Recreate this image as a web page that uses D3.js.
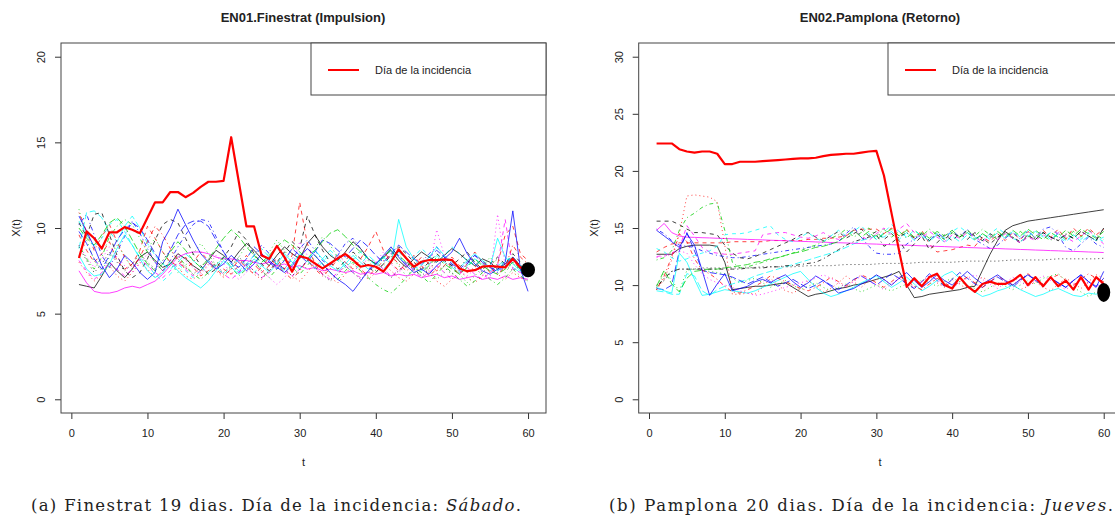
<!DOCTYPE html>
<html>
<head>
<meta charset="utf-8">
<script src="https://cdn.jsdelivr.net/npm/d3@7"></script>
<style>
body { margin: 0; background: #fff; }
text { font-family: "Liberation Sans", Arial, sans-serif; fill: #222; }
</style>
</head>
<body>
<svg width="1115" height="516"></svg>
<script>
// days 1..60
var days = d3.range(1, 61);
var xTicks = [0, 10, 20, 30, 40, 50, 60];
var yTicksFinestrat = [0, 5, 10, 15, 20];
var yTicksPamplona = [0, 5, 10, 15, 20, 25, 30];

// R matplot palette / line types, cycled per series
var seriesColors = ['#000000', '#ff0000', '#00cd00', '#0000ff', '#00ffff', '#ff00ff'];
var seriesDashes = [null, '4,4', '1,3', '1,3,4,3', '7,3'];

// EN01 Finestrat: other days
var finestratDays = [
  [6.7,6.6,6.5,7.2,8.0,7.5,7.1,7.6,8.3,8.6, 8.1,7.7,7.9,8.5,8.2,7.8,7.5,8.1,8.7,8.4, 8.0,8.6,9.1,8.7,8.2,7.8,8.4,8.9,8.5,8.2, 9.1,9.6,8.9,8.4,8.1,8.6,9.2,8.8,8.2,7.9, 8.3,8.7,8.1,7.7,8.2,8.6,8.3,8.0,8.4,8.8, 8.5,8.1,7.8,8.2,8.0,7.6,7.9,8.3,7.8,7.5],
  [9.6,8.7,8.0,8.5,9.2,8.1,7.6,7.9,8.7,10.1, 9.4,8.6,8.0,7.8,8.3,7.7,7.2,7.5,8.0,7.6, 7.3,7.8,8.4,7.9,7.4,7.8,8.2,7.6,8.4,11.5, 9.1,7.9,7.3,7.8,8.5,8.0,7.6,8.2,8.9,9.8, 8.7,8.0,7.5,7.9,8.4,7.8,7.2,7.6,8.1,7.7, 7.3,7.9,8.6,8.0,7.4,7.9,9.6,10.1,8.5,8.1],
  [11.1,9.3,8.1,7.5,8.3,9.0,8.4,7.6,8.1,8.8, 9.4,8.6,7.9,7.4,7.8,8.5,9.1,8.5,7.8,7.3, 7.7,8.3,9.0,8.4,7.8,8.6,9.3,8.7,8.0,7.6, 8.1,8.8,9.5,9.0,8.3,7.7,8.2,8.7,8.1,7.5, 7.9,8.4,7.8,7.2,7.6,8.1,7.5,7.0,7.4,7.9, 7.3,6.8,7.2,7.7,8.3,7.8,7.4,8.0,7.5,7.1],
  [10.2,10.8,9.6,8.4,7.7,8.6,9.5,10.4,9.7,8.8, 8.0,7.5,8.1,8.9,9.6,10.2,10.5,10.4,9.5,8.6, 7.9,7.4,7.8,8.4,9.0,8.5,7.9,7.6,8.2,8.8, 9.3,8.7,8.1,7.8,8.4,9.1,9.4,8.8,8.2,7.9, 8.3,8.8,8.4,7.9,7.6,8.0,8.5,8.9,8.3,7.8, 7.5,7.9,8.4,8.1,7.7,7.4,7.8,8.2,7.6,7.2],
  [8.8,10.9,11.0,10.6,9.8,9.2,10.1,10.7,10.0,9.1, 8.4,7.9,7.6,8.0,8.5,8.1,7.7,7.4,7.8,8.3, 7.9,7.5,7.9,8.4,8.8,8.3,7.9,7.5,7.9,8.5, 8.1,7.7,8.2,8.7,8.3,7.8,7.4,7.9,8.4,8.0, 7.6,8.1,8.6,8.2,7.8,7.5,7.9,8.4,8.0,7.7, 7.4,7.8,8.2,7.9,7.5,7.8,8.1,7.7,7.4,7.1],
  [7.5,6.8,6.3,6.2,6.2,6.3,6.5,6.6,6.5,6.7, 6.9,7.3,7.8,8.3,8.5,8.6,8.6,8.5,8.3,8.2, 8.2,8.1,8.1,8.0,7.9,8.0,7.8,7.9,7.7,7.8, 7.6,7.7,7.5,7.6,7.5,7.4,7.5,7.3,7.4,7.3, 7.4,7.2,7.3,7.2,7.3,7.1,7.2,7.3,7.1,7.2, 7.0,7.1,7.2,7.0,7.1,7.0,7.2,7.0,7.1,7.0],
  [10.3,9.5,10.8,10.9,9.6,8.4,7.5,7.1,7.4,8.2, 9.3,10.2,10.5,10.3,9.4,8.5,7.8,7.3,7.6,8.3, 8.9,9.8,9.3,8.5,7.9,7.5,8.0,8.6,9.2,8.8, 10.7,9.6,8.7,8.0,7.6,8.1,8.6,8.2,7.7,7.4, 7.9,8.4,8.9,8.5,8.0,7.6,8.0,8.5,8.1,7.8, 8.2,8.6,8.0,7.6,7.9,8.3,7.9,8.5,8.0,7.7],
  [8.0,7.4,6.9,7.3,7.8,7.2,6.9,7.4,8.0,7.6, 7.1,7.5,8.1,7.7,7.2,7.0,7.4,7.9,7.5,7.1, 7.6,8.2,7.8,7.3,7.0,7.5,8.0,7.6,7.2,6.9, 7.4,8.0,7.6,7.1,6.8,7.3,7.9,7.5,7.0,7.4, 7.9,7.5,7.1,6.9,7.3,7.8,7.4,6.9,6.6,7.0, 7.5,7.1,6.8,7.2,7.7,7.3,7.0,7.4,7.1,6.9],
  [9.0,8.2,7.6,8.3,9.5,10.1,10.5,10.2,9.4,8.6, 8.0,7.5,7.9,8.4,7.8,7.3,7.0,7.4,7.9,8.3, 7.7,7.2,7.6,8.1,7.5,7.1,7.6,8.2,7.7,7.3, 7.8,8.4,7.9,7.4,7.0,7.5,8.0,7.5,7.1,6.7, 6.4,6.2,6.6,7.1,7.6,7.2,6.8,7.3,7.8,7.4, 7.0,6.6,6.9,7.4,7.0,6.7,7.1,7.6,7.2,6.9],
  [9.8,9.1,8.2,7.6,8.4,9.3,9.9,10.3,10.0,9.3, 8.5,7.9,8.7,9.6,10.2,10.4,10.4,10.1,9.3,8.6, 8.0,7.7,8.2,8.9,8.5,8.0,7.6,8.1,8.8,8.4, 8.0,8.6,9.3,9.1,8.7,8.3,8.8,9.3,8.9,8.4, 8.0,8.5,9.0,8.6,8.2,7.9,8.3,8.7,8.3,7.9, 7.6,8.0,8.4,8.0,7.7,7.5,7.9,8.3,7.8,7.4],
  [8.4,7.6,7.2,7.3,7.9,8.8,9.6,9.0,8.2,7.5, 7.1,7.4,8.0,7.5,7.1,6.8,6.5,6.9,7.5,8.1, 7.7,7.3,7.7,8.2,7.8,7.4,7.9,8.5,8.0,7.6, 8.1,8.7,8.2,7.8,7.5,7.9,8.4,8.0,7.6,7.9, 8.3,7.9,10.5,8.9,8.2,7.8,8.3,8.9,8.4,8.0, 7.7,8.1,8.5,8.1,7.7,9.4,8.3,7.9,7.5,7.3],
  [8.1,7.5,7.0,7.4,8.0,7.6,7.2,7.6,8.2,7.8, 7.4,7.1,7.5,8.0,7.6,7.2,7.5,8.1,7.7,7.3, 7.0,7.4,7.9,7.5,7.1,7.4,7.9,7.5,7.2,7.6, 8.1,7.7,7.3,7.0,7.4,7.8,7.4,7.1,7.5,8.0, 7.6,7.2,7.5,7.9,7.5,7.1,7.4,7.8,7.4,7.0, 7.3,7.7,7.3,7.0,7.4,7.8,10.5,7.6,7.4,7.2],
  [8.9,8.1,7.4,7.9,8.6,8.0,7.5,7.9,8.5,8.0, 7.6,8.1,8.7,8.2,7.7,7.3,7.7,8.2,7.8,7.4, 7.8,8.3,7.9,7.5,7.1,7.5,8.0,7.6,7.2,7.6, 8.1,7.7,7.3,6.9,7.3,7.8,7.4,7.0,7.4,7.9, 7.5,7.1,7.5,8.0,7.6,7.2,7.6,8.1,7.7,7.3, 7.7,8.2,7.8,7.4,7.8,8.2,7.8,7.5,7.8,7.6],
  [10.9,9.8,8.7,9.5,10.2,9.2,8.3,7.7,8.3,9.2, 10.1,9.6,8.8,8.1,7.6,8.0,8.6,8.1,7.6,7.2, 7.6,8.1,7.7,7.3,7.7,8.3,7.8,7.4,7.0,7.5, 8.1,7.6,7.2,7.6,8.2,8.6,8.1,7.6,7.2,7.6, 8.1,8.4,7.9,7.5,7.8,8.3,7.9,7.5,7.8,8.3, 7.8,7.4,7.7,8.1,7.7,7.3,7.7,9.0,8.3,7.9],
  [10.0,9.4,9.0,9.6,10.3,10.6,10.1,9.3,8.5,7.9, 7.5,7.9,8.6,9.2,8.7,8.1,7.7,8.2,8.8,9.4, 9.9,9.5,8.9,8.4,8.0,8.4,8.9,9.3,9.0,8.6, 8.2,8.7,9.2,9.7,9.9,9.5,9.0,8.6,8.2,7.9, 8.3,8.8,8.4,8.0,7.7,7.4,7.8,8.3,7.9,7.6, 7.3,7.7,8.2,7.8,7.5,7.3,7.6,8.0,7.6,7.3],
  [10.7,9.8,8.9,7.8,7.1,7.6,8.4,8.0,7.4,7.0, 7.4,9.2,10.0,11.1,10.2,9.3,8.5,8.0,7.6,7.9, 8.4,8.0,7.5,7.9,8.5,8.1,7.7,7.4,7.8,8.3, 8.8,8.4,7.9,7.4,7.0,6.7,6.3,6.9,7.5,7.9, 8.4,8.9,8.3,7.8,7.4,7.6,7.3,7.8,8.2,8.6, 9.4,8.5,7.9,7.5,7.3,7.6,8.0,11.0,7.6,6.3],
  [10.4,9.6,8.9,9.4,10.2,10.5,9.8,9.0,8.3,7.8, 7.3,6.9,7.3,7.9,7.5,7.1,7.5,8.1,7.7,7.3, 7.7,8.2,7.8,7.4,7.8,8.4,7.9,7.5,7.9,8.5, 8.1,7.6,8.0,8.5,8.1,7.7,8.1,8.6,8.2,7.8, 8.2,8.7,8.3,7.9,8.3,8.8,8.4,8.0,8.4,8.9, 8.5,8.1,7.8,8.1,7.8,7.5,8.1,8.3,7.8,7.6],
  [9.0,8.3,7.7,8.2,8.9,8.3,7.8,7.4,7.9,8.5, 8.0,7.5,7.9,8.5,8.1,7.7,7.3,7.8,8.4,7.9, 7.4,7.0,7.4,8.0,7.5,7.1,6.7,7.1,7.7,9.2, 8.4,7.7,7.3,7.8,8.4,8.0,7.5,7.8,8.2,8.0, 8.6,7.9,7.4,7.8,8.3,7.9,7.5,9.9,8.4,8.0, 7.5,7.2,7.6,7.3,7.0,10.8,7.8,8.1,7.6,7.4]
];
var finestratIncidence = [8.25,9.8,9.4,8.8,9.75,9.75,10.05,9.9,9.7,10.6, 11.5,11.5,12.1,12.1,11.8,12.05,12.4,12.7,12.7,12.75, 15.3,12.7,10.1,10.1,8.4,8.2,8.95,8.3,7.45,8.36, 8.23,7.93,7.64,7.93,8.23,8.48,8.13,7.74,7.84,7.74, 7.45,8.03,8.75,8.23,7.74,8.03,8.13,8.13,8.17,8.13, 7.64,7.48,7.54,7.74,7.78,7.74,7.7,8.2,7.7,7.54];
var finestratLast = 7.56;

// EN02 Pamplona: other days
var pamplonaDays = [
  [12.7,12.7,12.7,13.2,13.4,13.5,13.5,13.5,13.4,12.0, 9.6,9.7,9.8,9.9,9.9,10.0,10.1,10.2,9.8,9.4, 9.0,9.2,9.3,9.5,9.7,9.8,10.0,10.1,10.3,10.5, 10.7,10.9,11.2,10.0,8.9,9.0,9.2,9.3,9.4,9.5, 9.6,9.8,9.9,11.3,12.7,13.9,14.8,15.2,15.4,15.6, 15.7,15.8,15.9,16.0,16.1,16.2,16.3,16.4,16.5,16.6],
  [12.9,13.3,13.6,13.7,13.7,13.7,13.7,13.7,13.7,13.7, 13.8,13.8,13.8,13.8,13.8,13.9,13.9,13.9,13.9,13.9, 14.0,14.0,14.1,14.1,14.2,14.3,14.8,14.9,14.9,14.9, 14.5,15.0,14.3,14.9,14.1,14.8,13.6,12.9,13.0,13.1, 13.3,13.5,13.4,14.2,13.8,14.5,13.9,14.6,14.0,14.7, 14.1,14.8,14.2,14.9,14.0,15.0,14.3,15.0,14.4,14.9],
  [9.6,11.2,10.4,9.5,11.3,11.4,11.3,11.2,11.1,11.0, 10.6,10.2,10.4,10.6,10.2,9.8,10.1,10.4,10.0,9.6, 9.9,10.2,9.8,9.5,9.8,10.1,9.7,9.4,9.7,10.0, 9.7,9.5,9.8,10.1,9.8,10.5,10.2,9.9,10.3,10.6, 10.3,10.0,9.7,9.4,9.8,10.2,9.9,9.6,10.0,10.4, 10.1,10.6,10.8,11.0,10.4,9.8,9.4,9.0,9.4,9.0],
  [14.9,14.5,13.9,13.5,13.4,13.3,13.0,12.8,12.6,12.5, 12.4,12.4,12.5,12.6,12.7,12.8,12.9,13.0,13.1,13.2, 13.3,13.4,13.5,13.6,13.8,14.5,15.1,14.2,13.4,12.8, 12.7,12.7,12.8,13.6,14.0,14.5,13.9,14.6,14.1,14.8, 14.2,14.9,14.0,13.6,13.2,13.5,14.1,14.6,14.0,14.7, 14.2,14.9,15.1,14.4,13.3,13.0,13.6,14.2,13.6,13.3],
  [9.5,9.4,9.2,9.2,11.0,10.8,9.5,9.1,9.6,9.9, 10.1,10.3,10.5,10.8,11.0,11.2,11.4,11.6,11.8,12.0, 12.2,12.4,12.6,12.8,13.0,13.3,13.6,13.9,14.1,14.3, 14.2,14.7,14.0,14.6,13.9,14.5,13.8,14.4,13.7,14.3, 13.8,14.4,13.9,14.5,14.0,14.6,14.1,14.7,14.2,14.8, 14.1,14.6,14.0,14.5,13.9,14.4,13.8,14.3,13.9,14.2],
  [14.8,15.4,14.6,14.3,14.20,14.18,14.15,14.13,14.10,14.08, 14.05,14.03,14.00,13.98,13.96,13.93,13.91,13.88,13.86,13.83, 13.81,13.78,13.76,13.73,13.71,13.69,13.66,13.64,13.61,13.59, 13.56,13.54,13.51,13.49,13.47,13.44,13.42,13.39,13.37,13.34, 13.32,13.29,13.27,13.24,13.22,13.20,13.17,13.15,13.12,13.10, 13.07,13.05,13.02,13.00,12.97,12.95,12.93,12.90,12.88,12.85],
  [15.6,15.6,15.6,15.3,14.9,14.6,14.6,14.5,14.4,13.5, 12.8,12.4,12.3,12.5,12.8,13.1,13.4,13.7,14.0,14.4, 14.6,14.2,13.9,14.3,14.7,14.1,14.5,14.9,14.3,14.7, 14.0,14.5,13.9,12.9,13.6,14.3,13.1,13.7,14.4,13.9, 14.5,14.0,14.6,14.1,13.6,14.2,14.7,14.1,13.7,14.3, 14.0,14.6,14.2,13.9,14.4,14.1,14.7,14.3,13.9,15.0],
  [9.6,10.5,12.2,14.5,17.8,17.9,17.8,17.7,17.3,13.5, 9.2,9.2,9.3,9.2,9.8,10.6,10.0,9.5,9.3,9.7, 10.4,9.9,9.4,9.7,10.2,10.8,10.3,9.8,10.4,10.9, 10.5,10.0,10.6,10.2,9.7,10.3,10.8,10.2,9.8,10.5, 10.1,9.6,10.2,10.7,10.3,9.9,10.4,10.0,9.6,9.9, 10.3,9.8,9.5,10.1,10.6,10.2,9.7,10.3,10.9,10.6],
  [12.2,12.4,13.0,14.8,15.9,16.3,16.8,17.1,17.2,14.8, 12.0,11.5,11.6,11.8,12.0,12.2,12.4,12.6,12.8,13.0, 13.3,13.5,13.8,14.1,14.4,14.9,14.2,14.6,15.0,14.3, 14.9,14.2,14.7,14.1,14.8,14.3,14.9,14.4,14.0,14.6, 14.2,14.8,14.3,14.9,14.4,14.0,14.6,14.1,14.7,14.2, 14.8,14.3,13.9,14.5,14.1,14.7,14.2,14.8,14.4,14.0],
  [9.7,9.6,10.0,13.0,14.6,13.0,11.3,11.1,11.0,10.9, 10.7,10.4,10.1,10.4,10.7,10.3,9.9,10.2,10.5,10.1, 9.7,10.0,10.4,10.0,9.6,10.0,10.5,10.8,10.4,10.0, 10.5,11.0,10.6,10.1,9.7,10.3,11.0,10.4,9.9,10.5, 11.1,10.6,10.1,9.8,10.3,10.7,10.3,9.8,10.4,10.9, 10.5,10.0,10.6,10.2,9.8,10.4,10.9,10.3,9.9,10.6],
  [9.8,9.5,9.3,12.8,12.0,10.5,9.1,9.2,9.4,9.6, 9.5,9.4,9.3,9.5,9.8,10.1,10.4,10.7,11.0,11.2, 10.5,9.8,9.3,9.0,9.2,9.5,9.8,10.2,10.5,10.8, 10.3,9.8,10.2,10.7,10.1,9.5,9.9,10.4,10.9,11.2, 10.6,10.0,9.4,9.0,9.2,9.5,9.7,10.0,9.6,9.3, 9.0,9.2,9.5,9.7,9.4,9.1,9.0,9.3,9.2,9.5],
  [12.5,12.6,12.8,13.2,15.2,14.3,13.3,12.9,12.8,12.7, 12.7,12.8,12.9,13.0,14.4,14.5,14.6,14.6,14.4,14.2, 14.1,14.3,14.6,14.2,14.0,14.4,14.8,14.3,13.9,14.5, 15.0,14.4,14.9,15.4,14.6,14.1,14.7,14.2,13.8,14.4, 14.1,14.6,14.2,13.8,14.3,14.0,14.5,14.1,13.7,14.2, 13.9,14.4,14.0,14.6,14.2,13.8,14.3,14.8,14.2,13.6],
  [10.0,10.4,11.2,11.4,11.4,11.4,11.5,11.5,11.5,11.5, 11.5,11.5,11.5,11.55,11.6,11.6,11.6,11.6,11.6,11.65, 11.7,11.7,11.7,11.7,11.75,11.8,11.8,11.8,11.8,11.85, 11.9,11.9,11.9,11.9,11.95,12.0,12.0,12.0,12.0,12.0, 12.05,12.1,12.1,12.1,12.1,12.1,12.15,12.2,12.2,12.2, 12.2,12.2,12.25,12.3,12.3,12.3,12.3,12.3,12.3,12.35],
  [9.6,10.8,12.5,14.5,13.8,12.3,11.3,11.0,10.5,9.9, 9.4,9.3,9.6,9.9,10.3,10.8,10.6,10.3,10.0,9.7, 9.5,9.8,10.2,10.7,10.3,9.9,10.4,10.9,10.6,10.2, 9.8,10.3,10.8,10.4,9.9,9.6,10.1,10.6,10.2,9.8, 10.3,10.7,10.2,9.8,10.3,10.8,10.4,10.0,10.5,11.0, 10.5,10.1,10.6,10.9,10.4,10.0,10.5,11.0,10.6,10.3],
  [9.9,11.3,10.1,9.4,10.6,11.2,11.3,11.4,11.4,11.5, 11.6,11.7,11.8,12.0,12.1,12.3,12.4,12.6,12.8,12.9, 13.1,13.3,13.4,13.6,13.8,14.3,14.8,14.2,14.7,14.0, 14.5,14.9,14.3,14.8,14.2,14.6,14.1,14.7,14.3,14.8, 14.2,14.6,14.0,14.5,14.1,14.7,14.2,14.8,14.3,14.9, 14.4,14.0,14.6,14.2,14.8,14.3,14.9,14.5,14.1,14.7],
  [14.8,14.3,13.8,13.3,14.5,13.5,11.3,9.1,10.1,11.0, 9.5,9.7,9.9,10.3,10.5,10.2,10.6,10.9,10.3,9.8, 10.2,10.8,10.4,9.9,9.3,9.5,9.7,10.1,10.4,10.9, 10.5,10.0,10.6,11.1,10.4,9.8,10.3,10.9,10.4,10.0, 10.6,11.2,10.6,10.1,10.5,10.9,10.4,10.0,10.5,10.9, 10.4,10.0,10.6,10.2,9.8,10.4,10.9,10.3,9.8,11.2],
  [13.2,12.9,12.4,12.1,12.3,12.6,12.8,13.0,13.4,14.4, 14.5,14.5,14.6,14.8,15.0,15.2,14.4,14.0,13.8,14.2, 14.6,14.1,13.8,14.3,14.8,14.3,14.7,15.2,14.5,14.0, 14.6,15.3,14.7,14.2,14.8,14.3,13.9,14.5,14.1,14.7, 15.1,14.6,14.2,13.9,14.5,15.0,14.5,14.1,13.8,14.3, 14.7,14.2,14.6,14.2,13.8,14.4,14.0,14.6,14.2,13.8],
  [12.4,12.5,12.7,13.0,12.8,11.8,11.0,10.5,10.2,10.0, 9.8,9.5,9.3,9.1,9.2,9.4,9.6,9.8,10.0,10.2, 10.4,10.6,10.9,10.6,10.2,9.8,10.3,10.8,10.4,10.0, 9.6,10.1,10.6,10.2,9.8,10.3,10.8,10.5,10.1,9.7, 10.2,10.6,10.9,10.5,10.1,9.7,10.2,10.7,10.3,9.9, 10.4,10.8,10.4,10.0,9.6,10.1,10.5,10.1,9.8,10.3],
  [9.8,10.6,11.2,11.4,11.4,11.4,11.4,11.4,11.4,11.4, 11.4,11.4,11.5,11.5,11.5,11.6,11.6,11.7,11.7,11.8, 11.9,12.0,12.3,12.7,13.1,13.5,13.8,14.0,14.2,14.4, 13.4,13.7,14.2,14.6,14.1,14.5,13.9,14.4,14.0,14.6, 14.2,14.8,14.3,13.9,14.5,14.1,14.7,14.2,13.8,14.4, 14.0,14.6,14.2,13.9,14.5,14.1,14.7,14.3,13.9,15.0]
];
var pamplonaIncidence = [22.4,22.4,22.4,21.9,21.7,21.6,21.7,21.7,21.5,20.6, 20.6,20.8,20.8,20.8,20.85,20.9,20.95,21.0,21.05,21.1, 21.1,21.15,21.3,21.4,21.45,21.5,21.5,21.6,21.7,21.75, 19.6,16.3,13.0,9.85,10.6,9.9,10.7,11.0,10.0,9.7, 10.7,9.9,9.4,10.1,10.3,10.1,10.1,10.4,10.9,10.0, 10.7,9.9,10.7,9.9,10.4,9.6,10.7,9.6,10.7,10.1];
var pamplonaLast = 9.36;

var svg = d3.select('svg');
svg.append('rect').attr('width', 1115).attr('height', 516).attr('fill', '#fff');

function drawPanel(p) {
    var top = 43, bottom = 413;
    var x = d3.scaleLinear()
        .domain([1 - 59 * 0.04, 60 + 59 * 0.04])
        .range([p.left, p.right]);
    var ySpan = p.ymax - p.ymin;
    var y = d3.scaleLinear()
        .domain([p.ymin - ySpan * 0.04, p.ymax + ySpan * 0.04])
        .range([bottom, top]);

    var g = svg.append('g');

    var line = d3.line()
        .x(function(d, i) { return x(days[i]); })
        .y(function(d) { return y(d); });

    g.selectAll('.serie')
        .data(p.series)
        .enter()
        .append('path')
        .attr('class', 'serie')
        .attr('d', line)
        .attr('fill', 'none')
        .attr('stroke', function(d, i) { return seriesColors[i % 6]; })
        .attr('stroke-dasharray', function(d, i) { return seriesDashes[i % 5]; })
        .attr('stroke-width', 1)
        .attr('stroke-opacity', 0.75);

    g.append('path')
        .datum(p.incidence)
        .attr('d', line)
        .attr('fill', 'none')
        .attr('stroke', '#ff0000')
        .attr('stroke-width', 2.2)
        .attr('stroke-linejoin', 'round');

    g.append('ellipse')
        .attr('cx', x(60))
        .attr('cy', y(p.last))
        .attr('rx', p.rx)
        .attr('ry', p.ry)
        .attr('fill', '#000');

    // axes
    var xAxis = g.append('g')
        .attr('transform', 'translate(0,' + bottom + ')')
        .call(d3.axisBottom(x).tickValues(xTicks).tickSize(6).tickPadding(10).tickFormat(d3.format('d')));
    xAxis.select('.domain').remove();
    xAxis.selectAll('line').attr('stroke', '#333');
    xAxis.selectAll('text').attr('font-size', 11).attr('fill', '#222');

    var yAxis = g.append('g')
        .attr('transform', 'translate(' + p.left + ',0)')
        .call(d3.axisLeft(y).tickValues(p.yTicks).tickSize(6).tickFormat(d3.format('d')));
    yAxis.select('.domain').remove();
    yAxis.selectAll('line').attr('stroke', '#333');
    yAxis.selectAll('text')
        .attr('font-size', 11)
        .attr('fill', '#222')
        .attr('transform', 'rotate(-90)')
        .attr('text-anchor', 'middle')
        .attr('x', 0)
        .attr('y', -20)
        .attr('dy', '0.35em');

    // box
    g.append('rect')
        .attr('x', p.left)
        .attr('y', top)
        .attr('width', p.right - p.left)
        .attr('height', bottom - top)
        .attr('fill', 'none')
        .attr('stroke', '#444')
        .attr('stroke-width', 1);

    // legend
    g.append('rect')
        .attr('x', p.legendX)
        .attr('y', top)
        .attr('width', p.right - p.legendX)
        .attr('height', 52)
        .attr('fill', '#fff')
        .attr('stroke', '#444');
    g.append('line')
        .attr('x1', p.legendX + 17)
        .attr('x2', p.legendX + 48)
        .attr('y1', 70)
        .attr('y2', 70)
        .attr('stroke', '#ff0000')
        .attr('stroke-width', 2);
    g.append('text')
        .attr('x', p.legendX + 64)
        .attr('y', 74)
        .attr('font-size', 11)
        .text('Día de la incidencia');

    // titles
    var cx = (p.left + p.right) / 2;
    g.append('text')
        .attr('x', p.titleX)
        .attr('y', 22)
        .attr('text-anchor', 'middle')
        .attr('font-size', 13)
        .attr('font-weight', 'bold')
        .text(p.title);
    g.append('text')
        .attr('x', cx)
        .attr('y', 466)
        .attr('text-anchor', 'middle')
        .attr('font-size', 11)
        .text('t');
    g.append('text')
        .attr('transform', 'translate(' + (p.left - 41) + ',' + ((top + bottom) / 2) + ') rotate(-90)')
        .attr('text-anchor', 'middle')
        .attr('font-size', 11)
        .text('X(t)');

    // caption
    var cap = svg.append('text')
        .attr('x', p.capX)
        .attr('y', 511)
        .attr('text-anchor', 'middle')
        .style('font-family', '"DejaVu Serif", "Liberation Serif", serif')
        .attr('font-size', 15)
        .attr('fill', '#111');
    cap.append('tspan').text(p.caption[0]);
    cap.append('tspan').attr('font-style', 'italic').text(p.caption[1]);
    cap.append('tspan').text('.');
    var w = cap.node().getComputedTextLength();
    if (w > 0) {
        var fs = Math.max(13, Math.min(16.5, 15 * p.capW / w));
        cap.attr('font-size', fs);
        cap.attr('textLength', p.capW).attr('lengthAdjust', 'spacing');
    }
}

drawPanel({
    left: 61, right: 546, ymin: 0, ymax: 20, yTicks: yTicksFinestrat,
    series: finestratDays, incidence: finestratIncidence, last: finestratLast, rx: 7, ry: 7.5,
    legendX: 311, title: 'EN01.Finestrat (Impulsion)', titleX: 303,
    caption: ['(a) Finestrat 19 dias. Día de la incidencia: ', 'Sábado'], capX: 276, capW: 490
});
drawPanel({
    left: 638.7, right: 1121.6, ymin: 0, ymax: 30, yTicks: yTicksPamplona,
    series: pamplonaDays, incidence: pamplonaIncidence, last: pamplonaLast, rx: 6.5, ry: 9.5,
    legendX: 888, title: 'EN02.Pamplona (Retorno)', titleX: 880,
    caption: ['(b) Pamplona 20 dias. Día de la incidencia: ', 'Jueves'], capX: 861, capW: 504
});
</script>
</body>
</html>
